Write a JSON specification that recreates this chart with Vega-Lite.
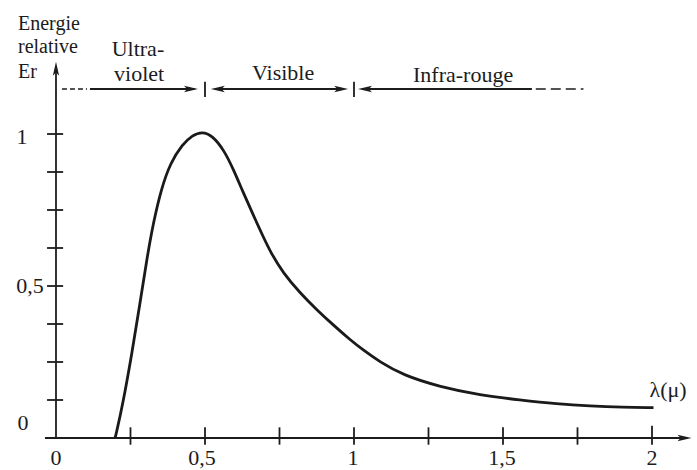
{
  "$schema": "https://vega.github.io/schema/vega-lite/v6.json",
  "width": 697,
  "height": 470,
  "autosize": {"type": "none"},
  "padding": 0,
  "background": "white",
  "config": {"view": {"stroke": null}},
  "datasets": {
    "curve": [
      {"x": 0.198, "y": 0.0}, {"x": 0.2, "y": 0.005}, {"x": 0.225, "y": 0.115}, {"x": 0.255, "y": 0.28}, {"x": 0.282, "y": 0.444},
      {"x": 0.305, "y": 0.59}, {"x": 0.327, "y": 0.71}, {"x": 0.354, "y": 0.822}, {"x": 0.384, "y": 0.905},
      {"x": 0.424, "y": 0.966}, {"x": 0.458, "y": 0.996}, {"x": 0.49, "y": 1.008}, {"x": 0.525, "y": 0.995},
      {"x": 0.565, "y": 0.945}, {"x": 0.596, "y": 0.882}, {"x": 0.628, "y": 0.808}, {"x": 0.66, "y": 0.738},
      {"x": 0.69, "y": 0.673}, {"x": 0.72, "y": 0.611}, {"x": 0.762, "y": 0.543}, {"x": 0.819, "y": 0.477},
      {"x": 0.876, "y": 0.421}, {"x": 0.93, "y": 0.372}, {"x": 0.987, "y": 0.323}, {"x": 1.03, "y": 0.29},
      {"x": 1.087, "y": 0.25}, {"x": 1.164, "y": 0.207}, {"x": 1.289, "y": 0.168}, {"x": 1.423, "y": 0.141},
      {"x": 1.557, "y": 0.125}, {"x": 1.681, "y": 0.112}, {"x": 1.792, "y": 0.105}, {"x": 1.903, "y": 0.101},
      {"x": 2.0, "y": 0.1}, {"x": 2.005, "y": 0.1}
    ],
    "segments": [
      {"x": -0.037, "y": 0, "x2": 2.115, "y2": 0},
      {"x": 0, "y": 0, "x2": 0, "y2": 1.22},
      {"x": 0.25, "y": -0.022, "x2": 0.25, "y2": 0.035},
      {"x": 0.5, "y": -0.022, "x2": 0.5, "y2": 0.035},
      {"x": 0.75, "y": -0.022, "x2": 0.75, "y2": 0.035},
      {"x": 1.0, "y": -0.022, "x2": 1.0, "y2": 0.035},
      {"x": 1.25, "y": -0.022, "x2": 1.25, "y2": 0.035},
      {"x": 1.5, "y": -0.022, "x2": 1.5, "y2": 0.035},
      {"x": 1.75, "y": -0.022, "x2": 1.75, "y2": 0.035},
      {"x": 2.0, "y": -0.022, "x2": 2.0, "y2": 0.04},
      {"x": -0.03, "y": 0.125, "x2": 0.024, "y2": 0.125},
      {"x": -0.03, "y": 0.25, "x2": 0.024, "y2": 0.25},
      {"x": -0.03, "y": 0.375, "x2": 0.024, "y2": 0.375},
      {"x": -0.03, "y": 0.5, "x2": 0.024, "y2": 0.5},
      {"x": -0.03, "y": 0.625, "x2": 0.024, "y2": 0.625},
      {"x": -0.03, "y": 0.75, "x2": 0.024, "y2": 0.75},
      {"x": -0.03, "y": 0.875, "x2": 0.024, "y2": 0.875},
      {"x": -0.03, "y": 1.0, "x2": 0.024, "y2": 1.0},
      {"x": 0.114, "y": 1.148, "x2": 0.465, "y2": 1.148},
      {"x": 0.5, "y": 1.122, "x2": 0.5, "y2": 1.172},
      {"x": 0.535, "y": 1.148, "x2": 0.965, "y2": 1.148},
      {"x": 1.0, "y": 1.122, "x2": 1.0, "y2": 1.172},
      {"x": 1.03, "y": 1.148, "x2": 1.597, "y2": 1.148}
    ],
    "dotsLeft": [{"x": 0.02, "y": 1.148, "x2": 0.104, "y2": 1.148}],
    "dashRight": [{"x": 1.61, "y": 1.148, "x2": 1.77, "y2": 1.148}],
    "headsRight": [{"x": 0.453, "y": 1.148}, {"x": 0.957, "y": 1.148}, {"x": 2.109, "y": 0}],
    "headsLeft": [{"x": 0.543, "y": 1.148}, {"x": 1.037, "y": 1.148}],
    "headsUp": [{"x": 0, "y": 1.215}],
    "yLabels": [
      {"x": -0.114, "y": 0.99, "label": "1"},
      {"x": -0.087, "y": 0.5, "label": "0,5"},
      {"x": -0.111, "y": 0.05, "label": "0"}
    ],
    "xLabels": [
      {"x": 0.0, "y": -0.066, "label": "0"},
      {"x": 0.49, "y": -0.066, "label": "0,5"},
      {"x": 0.997, "y": -0.066, "label": "1"},
      {"x": 1.497, "y": -0.066, "label": "1,5"},
      {"x": 2.0, "y": -0.066, "label": "2"}
    ],
    "titleY": [
      {"x": -0.1275, "y": 1.362, "label": "Energie"},
      {"x": -0.1275, "y": 1.286, "label": "relative"},
      {"x": -0.1275, "y": 1.204, "label": "Er"}
    ],
    "bands": [
      {"x": 0.275, "y": 1.28, "label": "Ultra-"},
      {"x": 0.279, "y": 1.198, "label": "violet"},
      {"x": 0.762, "y": 1.2, "label": "Visible"},
      {"x": 1.366, "y": 1.194, "label": "Infra-rouge"},
      {"x": 2.054, "y": 0.158, "label": "λ(μ)"}
    ]
  },
  "encoding": {
    "x": {"field": "x", "type": "quantitative", "scale": {"domain": [-0.1879, 2.151], "nice": false, "zero": false}, "axis": null},
    "y": {"field": "y", "type": "quantitative", "scale": {"domain": [-0.1053, 1.4408], "nice": false, "zero": false}, "axis": null}
  },
  "layer": [
    {
      "data": {"name": "segments"},
      "mark": {"type": "rule", "color": "#1c1c1c", "strokeWidth": 1.8},
      "encoding": {"x2": {"field": "x2"}, "y2": {"field": "y2"}}
    },
    {
      "data": {"name": "dotsLeft"},
      "mark": {"type": "rule", "color": "#1c1c1c", "strokeWidth": 1.6, "strokeDash": [5, 3]},
      "encoding": {"x2": {"field": "x2"}, "y2": {"field": "y2"}}
    },
    {
      "data": {"name": "dashRight"},
      "mark": {"type": "rule", "color": "#1c1c1c", "strokeWidth": 1.6, "strokeDash": [10, 5]},
      "encoding": {"x2": {"field": "x2"}, "y2": {"field": "y2"}}
    },
    {
      "data": {"name": "headsRight"},
      "mark": {"type": "point", "shape": "M1,0L-1,-0.45L-0.55,0L-1,0.45Z", "size": 196, "filled": true, "color": "#1c1c1c", "opacity": 1}
    },
    {
      "data": {"name": "headsLeft"},
      "mark": {"type": "point", "shape": "M-1,0L1,-0.45L0.55,0L1,0.45Z", "size": 196, "filled": true, "color": "#1c1c1c", "opacity": 1}
    },
    {
      "data": {"name": "headsUp"},
      "mark": {"type": "point", "shape": "M0,-1L-0.45,1L0,0.55L0.45,1Z", "size": 196, "filled": true, "color": "#1c1c1c", "opacity": 1}
    },
    {
      "data": {"name": "curve"},
      "mark": {"type": "line", "color": "#1a1a1a", "strokeWidth": 2.8, "interpolate": "basis"}
    },
    {
      "data": {"name": "yLabels"},
      "mark": {"type": "text", "font": "Liberation Serif", "fontSize": 22, "color": "#1c1c1c", "align": "center", "baseline": "middle"},
      "encoding": {"text": {"field": "label"}}
    },
    {
      "data": {"name": "xLabels"},
      "mark": {"type": "text", "font": "Liberation Serif", "fontSize": 22, "color": "#1c1c1c", "align": "center", "baseline": "middle"},
      "encoding": {"text": {"field": "label"}}
    },
    {
      "data": {"name": "titleY"},
      "mark": {"type": "text", "font": "Liberation Serif", "fontSize": 20, "color": "#1c1c1c", "align": "left", "baseline": "middle"},
      "encoding": {"text": {"field": "label"}}
    },
    {
      "data": {"name": "bands"},
      "mark": {"type": "text", "font": "Liberation Serif", "fontSize": 22, "color": "#1c1c1c", "align": "center", "baseline": "middle"},
      "encoding": {"text": {"field": "label"}}
    }
  ]
}
